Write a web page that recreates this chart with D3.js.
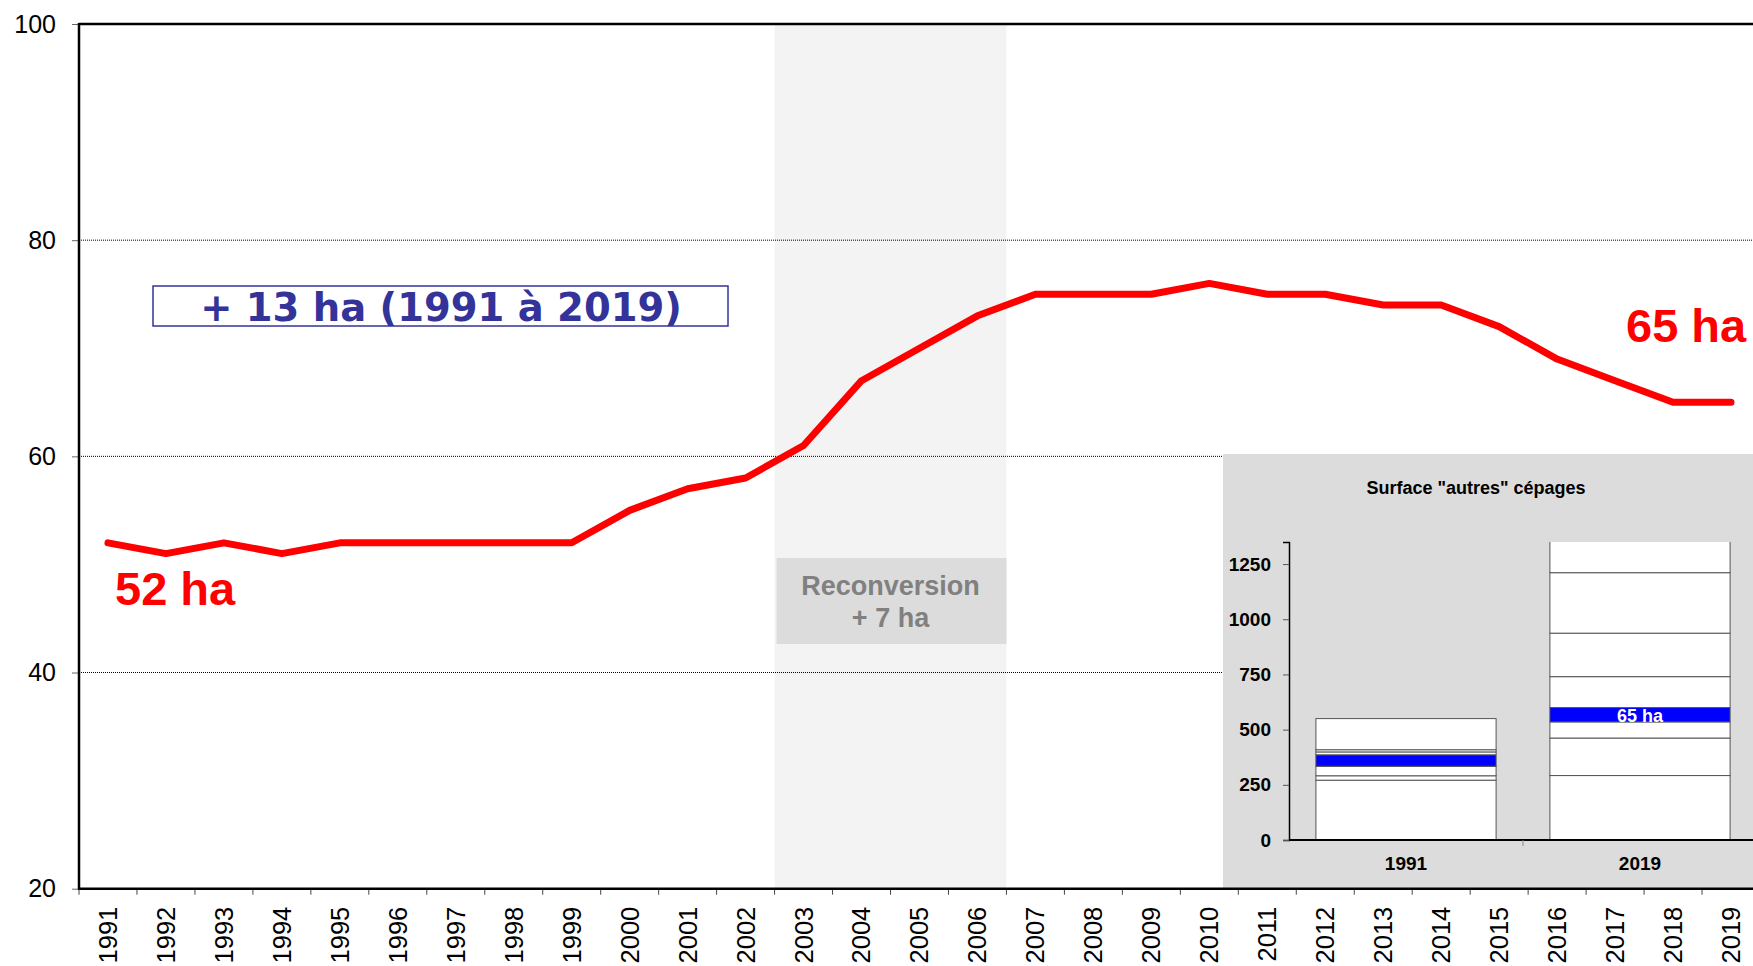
<!DOCTYPE html>
<html>
<head>
<meta charset="utf-8">
<script src="https://cdn.jsdelivr.net/npm/d3@7"></script>
<style>
  html, body { margin: 0; padding: 0; background: #fff; overflow: hidden; }
  text { font-family: "Liberation Sans", Arial, sans-serif; }
</style>
</head>
<body>
<div id="chart"></div>
<script>
// Years and surfaces (ha)
const years = ["1991","1992","1993","1994","1995","1996","1997","1998","1999","2000",
  "2001","2002","2003","2004","2005","2006","2007","2008","2009","2010",
  "2011","2012","2013","2014","2015","2016","2017","2018","2019"];
const surface = [52,51,52,51,52,52,52,52,52,55,57,58,61,67,70,73,75,75,75,76,75,75,74,74,72,69,67,65,65];
const yTicks = [20, 40, 60, 80, 100];
const gridValues = [40, 60, 80];
const reconvYears = ["2003", "2006"];

// Inset: stacked "autres" cépages
const insetCats = ["1991", "2019"];
const stack1991 = [271, 20, 43, 52, 13, 10, 141];
const stack2019 = [292, 170, 73, 65, 140, 197, 274, 210];
const highlight = 3; // blue segment index
const insetTicks = [0, 250, 500, 750, 1000, 1250];

const width = 1753, height = 966;
const svg = d3.select("#chart").append("svg")
  .attr("width", width)
  .attr("height", height);

// Main scales
const plotLeft = 79, plotRight = 1760, plotTop = 24, plotBottom = 888.7;
const x = d3.scaleBand().domain(years).range([plotLeft, plotRight]);
const y = d3.scaleLinear().domain([20, 100]).range([plotBottom, plotTop]);
const cx = d => x(d) + x.bandwidth() / 2;

// Reconversion shading (2003-2006)
const rx0 = x(reconvYears[0]), rx1 = x(reconvYears[1]) + x.bandwidth();
svg.append("rect")
  .attr("x", rx0).attr("y", plotTop)
  .attr("width", rx1 - rx0).attr("height", plotBottom - plotTop)
  .attr("fill", "#f3f3f3");

// Dotted gridlines
svg.selectAll(".grid").data(gridValues).enter().append("line")
  .attr("x1", plotLeft).attr("x2", width)
  .attr("y1", d => y(d)).attr("y2", d => y(d))
  .attr("stroke", "#000").attr("stroke-width", 1)
  .attr("stroke-dasharray", "1,1");

// Reconversion box
svg.append("rect")
  .attr("x", rx0 + 2).attr("y", 558)
  .attr("width", rx1 - rx0 - 2).attr("height", 86)
  .attr("fill", "#dcdcdc");
const rText = svg.append("text")
  .attr("x", (rx0 + rx1) / 2).attr("y", 595)
  .attr("text-anchor", "middle")
  .attr("font-size", 27).attr("font-weight", "bold")
  .attr("fill", "#808080");
rText.append("tspan").attr("x", (rx0 + rx1) / 2).text("Reconversion");
rText.append("tspan").attr("x", (rx0 + rx1) / 2).attr("dy", 32).text("+ 7 ha");

// "+ 13 ha" box
svg.append("rect")
  .attr("x", 153).attr("y", 286)
  .attr("width", 575).attr("height", 40)
  .attr("fill", "#fff")
  .attr("stroke", "#333399").attr("stroke-width", 1.5);
svg.append("text")
  .attr("x", 441).attr("y", 321)
  .attr("text-anchor", "middle")
  .style("font-family", "'DejaVu Sans', Verdana, sans-serif")
  .attr("font-size", 38.5).attr("font-weight", "bold")
  .attr("fill", "#333399")
  .text("+ 13 ha (1991 à 2019)");

// Red line
const line = d3.line()
  .x((d, i) => cx(years[i]))
  .y(d => y(d));
svg.append("path")
  .datum(surface)
  .attr("d", line)
  .attr("fill", "none")
  .attr("stroke", "#ff0000")
  .attr("stroke-width", 7)
  .attr("stroke-linejoin", "round")
  .attr("stroke-linecap", "round");

// Start / end labels
svg.append("text")
  .attr("x", 115).attr("y", 605)
  .attr("font-size", 47).attr("font-weight", "bold")
  .attr("fill", "#ff0000")
  .text(surface[0] + " ha");
svg.append("text")
  .attr("x", 1626).attr("y", 342)
  .attr("font-size", 47).attr("font-weight", "bold")
  .attr("fill", "#ff0000")
  .text(surface[surface.length - 1] + " ha");

// ---- Inset chart ----
const inset = svg.append("g");
inset.append("rect")
  .attr("x", 1223).attr("y", 454)
  .attr("width", width - 1223).attr("height", plotBottom - 454)
  .attr("fill", "#dcdcdc");
inset.append("text")
  .attr("x", 1476).attr("y", 494)
  .attr("text-anchor", "middle")
  .attr("font-size", 18).attr("font-weight", "bold")
  .attr("fill", "#000")
  .text('Surface "autres" cépages');

const ix = d3.scaleBand().domain(insetCats).range([1289, 1757])
  .paddingInner(0.23).paddingOuter(0.115);
const iy = d3.scaleLinear().domain([0, 1350]).range([840, 542]);

const stacks = [stack1991, stack2019];
const clipId = "insetClip";
svg.append("defs").append("clipPath").attr("id", clipId)
  .append("rect").attr("x", 1289).attr("y", iy(1350))
  .attr("width", width - 1289).attr("height", 840 - iy(1350));

const barsG = inset.append("g").attr("clip-path", "url(#" + clipId + ")");
stacks.forEach((vals, k) => {
  let acc = 0;
  const segs = vals.map((v, i) => {
    const s = { i: i, y0: acc, y1: acc + v };
    acc += v;
    return s;
  });
  barsG.selectAll(".seg" + k).data(segs).enter().append("rect")
    .attr("x", ix(insetCats[k]))
    .attr("width", ix.bandwidth())
    .attr("y", d => iy(d.y1))
    .attr("height", d => iy(d.y0) - iy(d.y1))
    .attr("fill", d => d.i === highlight ? "#0000ff" : "#ffffff")
    .attr("stroke", "#555").attr("stroke-width", 1);
});

// Label in the 2019 blue segment
const hs = stack2019.slice(0, highlight).reduce((a, b) => a + b, 0);
inset.append("text")
  .attr("x", ix("2019") + ix.bandwidth() / 2)
  .attr("y", (iy(hs) + iy(hs + stack2019[highlight])) / 2 + 7)
  .attr("text-anchor", "middle")
  .attr("font-size", 18).attr("font-weight", "bold")
  .attr("fill", "#fff")
  .text(stack2019[highlight] + " ha");

// Inset axes
const iyAxis = inset.append("g")
  .attr("transform", "translate(1289,0)")
  .call(d3.axisLeft(iy).tickValues(insetTicks).tickFormat(d3.format("d"))
    .tickSize(6).tickPadding(12));
iyAxis.select(".domain").attr("stroke", "#000").attr("stroke-width", 1.5);
iyAxis.selectAll(".tick line").attr("stroke", "#555");
iyAxis.selectAll("text")
  .attr("font-size", 19).attr("font-weight", "bold").attr("fill", "#000")
  .style("font-family", "'Liberation Sans', Arial, sans-serif");

inset.append("line")
  .attr("x1", 1289).attr("x2", width)
  .attr("y1", 840).attr("y2", 840)
  .attr("stroke", "#000").attr("stroke-width", 2);
inset.append("line")
  .attr("x1", ix.step() + 1289).attr("x2", ix.step() + 1289)
  .attr("y1", 840).attr("y2", 846)
  .attr("stroke", "#888").attr("stroke-width", 1);
inset.selectAll(".icat").data(insetCats).enter().append("text")
  .attr("x", d => ix(d) + ix.bandwidth() / 2)
  .attr("y", 870)
  .attr("text-anchor", "middle")
  .attr("font-size", 19).attr("font-weight", "bold")
  .attr("fill", "#000")
  .text(d => d);

// ---- Main axes ----
const yAxis = svg.append("g")
  .attr("transform", "translate(" + plotLeft + ",0)")
  .call(d3.axisLeft(y).tickValues(yTicks).tickSize(7).tickPadding(16));
yAxis.select(".domain").remove();
yAxis.selectAll(".tick line").attr("stroke", "#666");
yAxis.selectAll("text")
  .attr("font-size", 25).attr("fill", "#000")
  .style("font-family", "'Liberation Sans', Arial, sans-serif");

const xAxis = svg.append("g")
  .attr("transform", "translate(0," + plotBottom + ")")
  .call(d3.axisBottom(x).tickSize(0));
xAxis.select(".domain").remove();
xAxis.selectAll("text")
  .attr("transform", "rotate(-90)")
  .attr("text-anchor", "end")
  .attr("x", -18).attr("y", 0).attr("dy", "0.35em")
  .attr("font-size", 25.5).attr("fill", "#000")
  .style("font-family", "'Liberation Sans', Arial, sans-serif");

// Tick marks between years
svg.selectAll(".xtick").data(years).enter().append("line")
  .attr("x1", d => x(d)).attr("x2", d => x(d))
  .attr("y1", plotBottom).attr("y2", plotBottom + 6)
  .attr("stroke", "#444").attr("stroke-width", 1);

// Frame
svg.append("line")
  .attr("x1", plotLeft).attr("x2", width).attr("y1", plotTop).attr("y2", plotTop)
  .attr("stroke", "#000").attr("stroke-width", 2.5);
svg.append("line")
  .attr("x1", plotLeft).attr("x2", width).attr("y1", plotBottom).attr("y2", plotBottom)
  .attr("stroke", "#000").attr("stroke-width", 2.5);
svg.append("line")
  .attr("x1", plotLeft).attr("x2", plotLeft).attr("y1", plotTop - 1).attr("y2", plotBottom + 1)
  .attr("stroke", "#000").attr("stroke-width", 2.5);
</script>
</body>
</html>
